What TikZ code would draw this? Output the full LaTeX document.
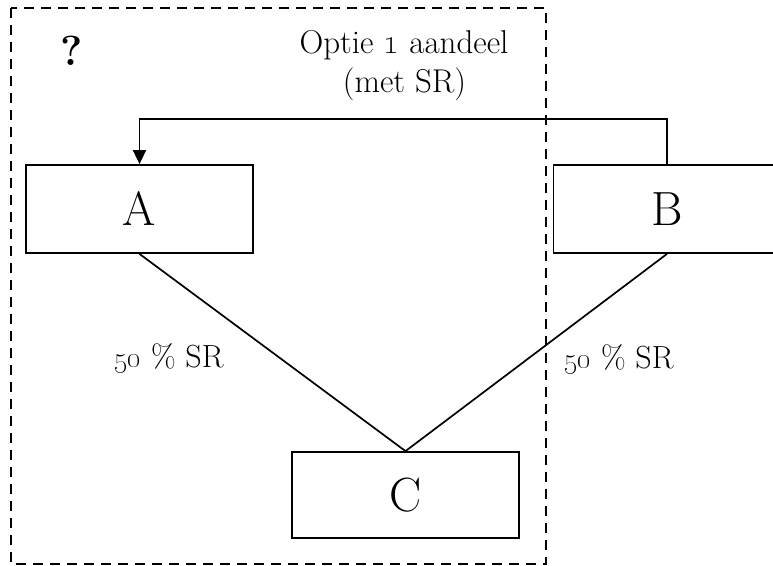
\documentclass[tikz,border=0pt]{standalone}
\usetikzlibrary{arrows.meta}
\begin{document}
\begin{tikzpicture}[x=1pt,y=-1pt,
  entity/.style={draw,line width=1.8pt,minimum width=227pt,minimum height=88pt,
    inner sep=0pt,font=\fontsize{48}{52}\selectfont},
  link/.style={line width=1.7pt},
  lbl/.style={inner sep=0pt,anchor=base,font=\fontsize{32}{36}\selectfont},
  group/.style={draw,line width=1.8pt,dash pattern=on 10pt off 7pt}]
\useasboundingbox (0,0) rectangle (773,565);
\begin{scope}
\clip (0,0) rectangle (773,565);
% group boundary
\draw[group] (11,8) rectangle (546,564);
% entities
\node[entity] (A) at (139.5,209) {A};
\node[entity] (B) at (667,209) {B};
\node[entity,minimum height=86pt] (C) at (405.5,495) {C};
% ownership lines
\draw[link] (A.south) -- (C.north);
\draw[link] (B.south) -- (C.north);
% transfer arrow from B to A
\coordinate (top) at (0,119);
\draw[link,-{Triangle[length=14pt,width=13pt]}] (B.north) -- (B.north |- top) -| (A.north);
% texts
\node[lbl] (q) at (72,65) {\fontsize{42}{46}\selectfont\bfseries ?};
\node[lbl,font=\fontsize{33}{38}\selectfont] (opt1) at (404,53) {Optie \oldstylenums{1} aandeel};
\node[lbl,font=\fontsize{33}{38}\selectfont] (opt2) at (404.5,92) {(met SR)};
\node[lbl] (sr1) at (169,367) {\oldstylenums{50} \% SR};
\node[lbl] (sr2) at (619,368) {\oldstylenums{50} \% SR};
\end{scope}
\end{tikzpicture}
\end{document}
